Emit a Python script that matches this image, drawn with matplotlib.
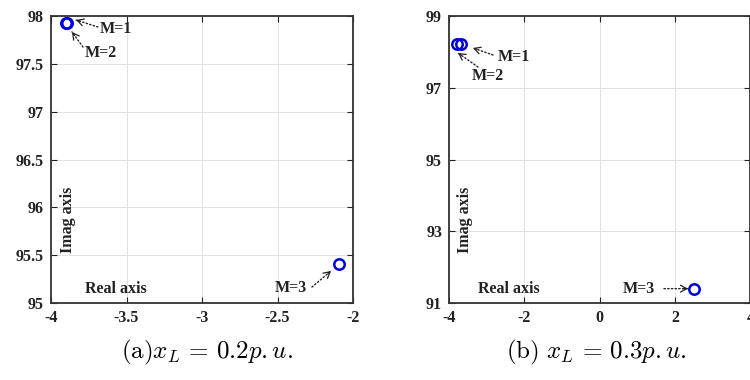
import matplotlib
matplotlib.use("Agg")
import matplotlib.pyplot as plt
import numpy as np

plt.rcParams['mathtext.fontset'] = 'cm'

# Panel (a): x_L = 0.2 p.u.
a_labels = ["M=1", "M=2", "M=3"]
a_real = [-3.90, -3.895, -2.09]
a_imag = [97.93, 97.925, 95.41]
a_xticks = [-4, -3.5, -3, -2.5, -2]
a_xticklabels = ["-4", "-3.5", "-3", "-2.5", "-2"]
a_yticks = [95, 95.5, 96, 96.5, 97, 97.5, 98]
a_yticklabels = ["95", "95.5", "96", "96.5", "97", "97.5", "98"]

# Panel (b): x_L = 0.3 p.u.
b_labels = ["M=1", "M=2", "M=3"]
b_real = [-3.68, -3.78, 2.50]
b_imag = [98.22, 98.22, 91.40]
b_xticks = [-4, -2, 0, 2, 4]
b_xticklabels = ["-4", "-2", "0", "2", "4"]
b_yticks = [91, 93, 95, 97, 99]
b_yticklabels = ["91", "93", "95", "97", "99"]

SERIF = ['Liberation Serif', 'DejaVu Serif']
FS = 11.5
fig = plt.figure(figsize=(7.5, 3.8), dpi=100)
ax1 = fig.add_axes([0.068, 0.2026, 0.4027, 0.7553])
ax2 = fig.add_axes([0.5987, 0.2026, 0.4017, 0.7553])


def style(ax, xt, xtl, yt, ytl):
    ax.set_xlim(xt[0], xt[-1])
    ax.set_ylim(yt[0], yt[-1])
    ax.set_xticks(xt)
    ax.set_xticklabels(xtl, fontfamily=SERIF, fontweight='bold', fontsize=FS)
    ax.set_yticks(yt)
    ax.set_yticklabels(ytl, fontfamily=SERIF, fontweight='bold', fontsize=FS)
    ax.tick_params(direction='in', length=4, width=0.8, top=True, right=True,
                   pad=5, colors='#222222')
    ax.grid(True, color='#e2e2e2', lw=0.7)
    ax.set_axisbelow(True)
    for s in ax.spines.values():
        s.set_color('#333333')
        s.set_linewidth(1.3)


def arrow(ax, tail, tip):
    ax.annotate('', xy=tip, xytext=tail,
                arrowprops=dict(arrowstyle='-', linestyle=':', color='#222222',
                                lw=1.0, shrinkA=0, shrinkB=0))
    p_tip = ax.transData.transform(tip)
    p_tail = ax.transData.transform(tail)
    d = p_tail - p_tip
    d = d / np.hypot(*d) * 4.0
    ax.annotate('', xy=tip, xytext=(d[0] * 0.72, d[1] * 0.72), textcoords='offset points',
                arrowprops=dict(arrowstyle='->,head_length=0.45,head_width=0.25',
                                color='#222222', lw=0.9, shrinkA=0, shrinkB=0))


def txt(ax, x, y, s, ha='left', rot=0):
    ax.text(x, y, s, ha=ha, va='center', rotation=rot, fontfamily=SERIF,
            fontweight='bold', fontsize=FS, color='#222222')


style(ax1, a_xticks, a_xticklabels, a_yticks, a_yticklabels)
style(ax2, b_xticks, b_xticklabels, b_yticks, b_yticklabels)

for ax, xs, ys in ((ax1, a_real, a_imag), (ax2, b_real, b_imag)):
    ax.plot(xs, ys, linestyle='none', marker='o', markersize=7.5, markerfacecolor='none',
            markeredgecolor='#0000dd', markeredgewidth=1.8, clip_on=False)

# Panel (a) annotations
txt(ax1, -3.675, 97.864, a_labels[0])
arrow(ax1, (-3.689, 97.885), (-3.834, 97.958))
txt(ax1, -3.775, 97.613, a_labels[1])
arrow(ax1, (-3.788, 97.676), (-3.861, 97.833))
txt(ax1, -2.305, 95.157, a_labels[2], ha='right')
arrow(ax1, (-2.272, 95.167), (-2.146, 95.335))
txt(ax1, -3.775, 95.146, "Real axis")
txt(ax1, -3.887, 95.87, "Imag axis", ha='center', rot=90)

# Panel (b) annotations
txt(ax2, -2.699, 97.857, b_labels[0])
arrow(ax2, (-2.832, 97.913), (-3.363, 98.108))
txt(ax2, -3.389, 97.327, b_labels[1])
arrow(ax2, (-3.23, 97.578), (-3.761, 97.969))
txt(ax2, 1.469, 91.39, b_labels[2], ha='right')
arrow(ax2, (1.708, 91.40), (2.345, 91.40))
txt(ax2, -3.23, 91.39, "Real axis")
txt(ax2, -3.575, 93.31, "Imag axis", ha='center', rot=90)

fig.text(207 / 750, 1 - 352 / 380, r"$\mathrm{(a)}x_L\,=\,0.2p{.}u{.}$", ha='center', va='center',
         fontsize=18)
fig.text(596 / 750, 1 - 352 / 380, r"$\mathrm{(b)}\ x_L\,=\,0.3p{.}u{.}$", ha='center', va='center',
         fontsize=18)

fig.savefig("out.png", dpi=100)
